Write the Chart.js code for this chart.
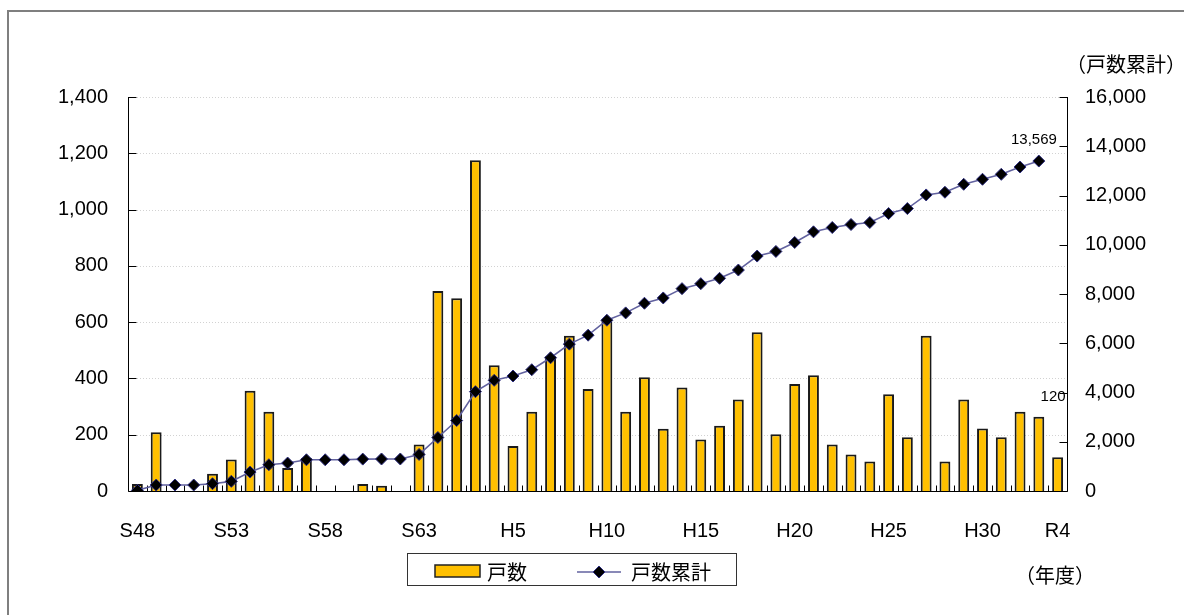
<!DOCTYPE html>
<html>
<head>
  <meta charset="UTF-8">
  <title>戸数・戸数累計</title>
  <style>
    html, body { margin: 0; padding: 0; background: #fff; }
  </style>
</head>
<body>
  <canvas id="chart" width="1184" height="615"></canvas>
  <script src="https://cdn.jsdelivr.net/npm/chart.js/dist/chart.umd.min.js"></script>
  <script>
    // 年度 (S48 ~ R4)
    const years = [
      'S48','S49','S50','S51','S52','S53','S54','S55','S56','S57','S58','S59','S60','S61','S62','S63',
      'H1','H2','H3','H4','H5','H6','H7','H8','H9','H10','H11','H12','H13','H14','H15',
      'H16','H17','H18','H19','H20','H21','H22','H23','H24','H25','H26','H27','H28','H29','H30',
      'R1','R2','R3','R4'
    ];
    // labels that are printed under the axis
    const shownYears = ['S48','S53','S58','S63','H5','H10','H15','H20','H25','H30','R4'];

    // 戸数 (bars, left axis)
    const units = [
      25, 209, 0, 0, 61, 112, 356, 282, 82, 117, 0, 0, 25, 19, 0, 165,
      711, 685, 1175, 447, 160, 282, 479, 552, 362, 607, 282, 404, 221, 368, 183,
      232, 325, 564, 202, 380, 411, 165, 130, 105, 344, 191, 552, 105, 325, 222,
      191, 282, 264, 120
    ];
    // 戸数累計 (line, right axis) - no marker drawn for R4
    const unitsTotal = [
      25, 243, 243, 243, 297, 391, 769, 1066, 1134, 1268, 1268, 1268, 1295, 1300, 1300, 1485,
      2173, 2861, 4035, 4494, 4669, 4925, 5411, 5964, 6328, 6935, 7233, 7624, 7840, 8218, 8420,
      8636, 8973, 9540, 9729, 10093, 10525, 10700, 10822, 10903, 11267, 11470, 12023, 12132, 12455, 12658,
      12860, 13157, 13399, null
    ];
    const totalLabel = '13,569';

    const leftMax = 1400, leftStep = 200;
    const rightMax = 16000, rightStep = 2000;

    const numFont = { family: "'Liberation Sans', Arial, sans-serif", size: 20 };
    const jpFont = "20px 'Noto Sans CJK JP', sans-serif";
    const barColor = '#FFC000';
    const lineColor = '#62629f';

    function fmt(v) { return v.toLocaleString('en-US'); }

    // gridlines, axis lines, inward tick marks, texts, legend, frame
    const decor = {
      id: 'decor',
      beforeDatasetsDraw(chart) {
        const { ctx, chartArea: a, scales } = chart;
        const yl = scales.y, yr = scales.y2, x = scales.x;
        ctx.save();
        ctx.lineWidth = 1;
        ctx.strokeStyle = '#d2d2d2';
        ctx.setLineDash([1, 2]);
        yl.ticks.forEach(t => {
          if (t.value === 0) return;
          const py = Math.round(yl.getPixelForValue(t.value)) + 0.5;
          ctx.beginPath(); ctx.moveTo(a.left, py); ctx.lineTo(a.right, py); ctx.stroke();
        });
        ctx.setLineDash([]);
        ctx.strokeStyle = '#000';
        const L = Math.round(a.left) + 0.5, R = Math.round(a.right) + 0.5, B = Math.round(a.bottom) + 0.5;
        ctx.beginPath();
        ctx.moveTo(L, a.top); ctx.lineTo(L, B); ctx.lineTo(R, B); ctx.lineTo(R, a.top);
        ctx.stroke();
        ctx.beginPath();
        yl.ticks.forEach(t => {
          const py = Math.round(yl.getPixelForValue(t.value)) + 0.5;
          ctx.moveTo(L, py); ctx.lineTo(L + 8, py);
        });
        yr.ticks.forEach(t => {
          const py = Math.round(yr.getPixelForValue(t.value)) + 0.5;
          ctx.moveTo(R, py); ctx.lineTo(R - 8, py);
        });
        for (let i = 1; i < years.length; i++) {
          const px = Math.round((x.getPixelForValue(i - 1) + x.getPixelForValue(i)) / 2) + 0.5;
          ctx.moveTo(px, B); ctx.lineTo(px, B - 6);
        }
        ctx.stroke();
        ctx.restore();
      },
      afterDraw(chart) {
        const { ctx } = chart;
        ctx.save();
        // data labels
        const lineMeta = chart.getDatasetMeta(1);
        let last = unitsTotal.length - 1;
        while (unitsTotal[last] == null) last--;
        const pt = lineMeta.data[last];
        ctx.fillStyle = '#000';
        ctx.font = "15px 'Liberation Sans', Arial, sans-serif";
        ctx.textAlign = 'right';
        ctx.textBaseline = 'middle';
        ctx.fillText(totalLabel, pt.x + 18, pt.y - 21);
        const barMeta = chart.getDatasetMeta(0);
        const lb = barMeta.data[units.length - 1];
        ctx.fillText(fmt(units[units.length - 1]), lb.x + 8, lb.y - 60);

        // axis captions
        ctx.font = jpFont;
        ctx.textAlign = 'left';
        ctx.fillText('（戸数累計）', 1066, 64);
        ctx.fillText('（年度）', 1015, 575);

        // legend
        ctx.strokeStyle = '#333';
        ctx.lineWidth = 1;
        ctx.strokeRect(407.5, 553.5, 329, 32);
        ctx.fillStyle = barColor;
        ctx.fillRect(435, 565, 45, 12);
        ctx.lineWidth = 1.5;
        ctx.strokeStyle = '#222';
        ctx.strokeRect(435, 565, 45, 12);
        ctx.fillStyle = '#000';
        ctx.fillText('戸数', 487, 572);
        ctx.strokeStyle = lineColor;
        ctx.beginPath(); ctx.moveTo(577, 572); ctx.lineTo(621, 572); ctx.stroke();
        ctx.fillStyle = '#000';
        ctx.strokeStyle = '#2e2e80';
        ctx.lineWidth = 1;
        ctx.beginPath();
        ctx.moveTo(599, 566); ctx.lineTo(605, 572); ctx.lineTo(599, 578); ctx.lineTo(593, 572); ctx.closePath();
        ctx.fill(); ctx.stroke();
        ctx.fillText('戸数累計', 631, 572);

        // outer frame
        ctx.strokeStyle = '#7f7f7f';
        ctx.lineWidth = 2;
        ctx.beginPath();
        ctx.moveTo(8, 615); ctx.lineTo(8, 11); ctx.lineTo(1184, 11);
        ctx.stroke();
        ctx.restore();
      }
    };

    new Chart(document.getElementById('chart'), {
      type: 'bar',
      data: {
        labels: years,
        datasets: [
          {
            label: '戸数',
            data: units,
            yAxisID: 'y',
            backgroundColor: barColor,
            borderColor: '#1a1a1a',
            borderWidth: 2,
            barPercentage: 0.58,
            categoryPercentage: 1,
            order: 1
          },
          {
            type: 'line',
            label: '戸数累計',
            data: unitsTotal,
            yAxisID: 'y2',
            borderColor: lineColor,
            borderWidth: 1.6,
            tension: 0,
            pointStyle: 'rectRot',
            pointRadius: 6,
            pointBackgroundColor: '#000',
            pointBorderColor: '#2e2e80',
            pointBorderWidth: 1,
            order: 0
          }
        ]
      },
      options: {
        responsive: false,
        animation: false,
        layout: { padding: { top: 97, left: 0, right: 0, bottom: 0 } },
        plugins: { legend: { display: false }, tooltip: { enabled: false } },
        scales: {
          x: {
            grid: { display: false },
            border: { display: false },
            ticks: {
              autoSkip: false, maxRotation: 0, minRotation: 0,
              padding: 20, color: '#000', font: numFont,
              callback: (v, i) => shownYears.includes(years[i]) ? years[i] : ''
            },
            afterFit: s => { s.height = 124; }
          },
          y: {
            position: 'left',
            min: 0, max: leftMax,
            grid: { display: false },
            border: { display: false },
            ticks: { stepSize: leftStep, padding: 12, color: '#000', font: numFont, callback: v => fmt(v) },
            afterFit: s => { s.width = 128; }
          },
          y2: {
            position: 'right',
            min: 0, max: rightMax,
            grid: { display: false },
            border: { display: false },
            ticks: { stepSize: rightStep, padding: 10, color: '#000', font: numFont, callback: v => fmt(v) },
            afterFit: s => { s.width = 117; }
          }
        }
      },
      plugins: [decor]
    });
  </script>
</body>
</html>
